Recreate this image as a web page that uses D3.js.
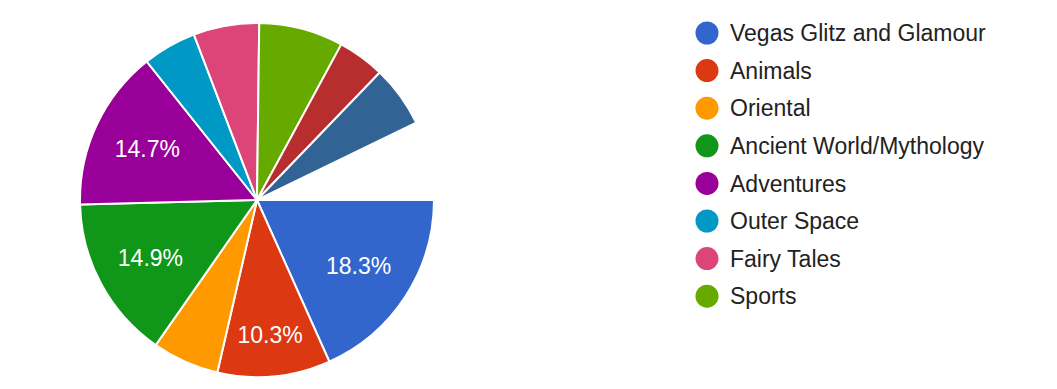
<!DOCTYPE html>
<html>
<head>
<meta charset="utf-8">
<style>
  body { margin: 0; background: #fff; font-family: "Liberation Sans", Arial, sans-serif; }
</style>
</head>
<body>
<div id="chart"></div>
<script src="https://cdn.jsdelivr.net/npm/d3@7"></script>
<script>
// slice data, clockwise from 3 o'clock
var categories = ["Vegas Glitz and Glamour", "Animals", "Oriental", "Ancient World/Mythology",
  "Adventures", "Outer Space", "Fairy Tales", "Sports", "Other A", "Other B", "Remaining"];
var shares = [18.3, 10.3, 6.1, 14.9, 14.7, 4.9, 6.0, 7.7, 4.3, 5.6, 7.2];
var colors = ["#3366cc", "#dc3912", "#ff9900", "#109618", "#990099", "#0099c6",
  "#dd4477", "#66aa00", "#b82e2e", "#316395", "#ffffff"];
var legendCount = 8; // only the first 8 are listed in the legend

const width = 1057, height = 389,
  cx = 257, cy = 200, radius = 177;

const svg = d3.select("#chart").append("svg")
  .attr("width", width)
  .attr("height", height);

const pie = d3.pie()
  .sort(null)
  .value(d => d)
  .startAngle(Math.PI / 2)
  .endAngle(Math.PI / 2 + 2 * Math.PI);

const arc = d3.arc().innerRadius(0).outerRadius(radius);

const g = svg.append("g").attr("transform", "translate(" + cx + "," + cy + ")");

const arcs = pie(shares);

g.selectAll("path")
  .data(arcs).enter()
  .append("path")
  .attr("d", arc)
  .style("fill", (d, i) => colors[i])
  .style("stroke", (d, i) => i == arcs.length - 1 ? "none" : "#fff")
  .style("stroke-width", 2);

// percentage labels only for the big slices; narrow ones get pushed out a bit
function labelPos(d) {
  var span = d.endAngle - d.startAngle;
  var r = span < 0.7 ? 135 : 121;
  return d3.arc().innerRadius(r).outerRadius(r).centroid(d);
}

g.selectAll("text")
  .data(arcs.filter((d, i) => i < legendCount && d.data >= 10)).enter()
  .append("text")
  .attr("transform", d => "translate(" + labelPos(d) + ")")
  .attr("text-anchor", "middle")
  .attr("dy", "0.36em")
  .style("fill", "#fff")
  .style("font-size", "23px")
  .text(d => d.data.toFixed(1) + "%");

// legend
const legend = svg.append("g").attr("transform", "translate(707, 33)");
const item = legend.selectAll("g")
  .data(categories.slice(0, legendCount)).enter()
  .append("g")
  .attr("transform", (d, i) => "translate(0," + (i * 37.6) + ")");

item.append("circle")
  .attr("r", 11.5)
  .style("fill", (d, i) => colors[i]);

item.append("text")
  .attr("x", 23)
  .attr("dy", "0.36em")
  .style("font-size", "23px")
  .style("fill", "#222")
  .text(d => d);
</script>
</body>
</html>
